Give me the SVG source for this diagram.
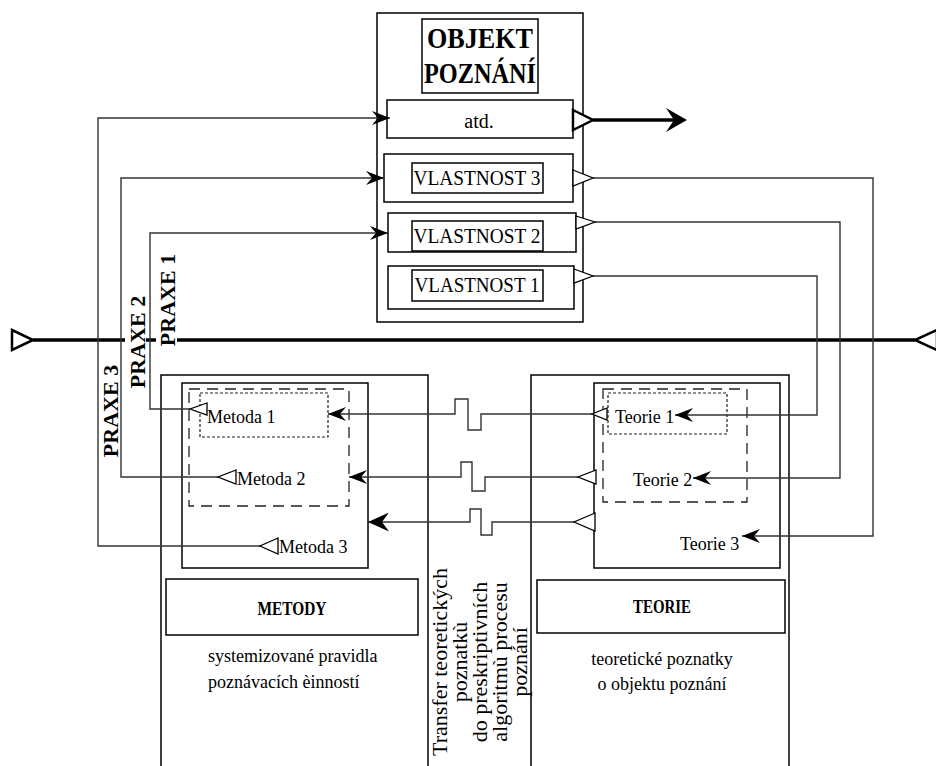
<svg xmlns="http://www.w3.org/2000/svg" width="936" height="766" viewBox="0 0 936 766">
<defs>
<style>
.box{fill:none;stroke:#000;stroke-width:1.5}
.dash{fill:none;stroke:#222;stroke-width:1.3;stroke-dasharray:11 7}
.dot{fill:none;stroke:#222;stroke-width:1.2;stroke-dasharray:3 2}
.ln{fill:none;stroke:#333;stroke-width:1.4}
.tri{fill:#fff;stroke:#000;stroke-width:1.3}
.t{font-family:"Liberation Serif","Times New Roman",serif;fill:#000}
.b{font-weight:bold}
.s18{font-size:18px}
.s22{font-size:22px}
.mid{text-anchor:middle}
</style>
<marker id="barb" viewBox="0 0 18 14" refX="18" refY="7" markerWidth="18" markerHeight="14" orient="auto" markerUnits="userSpaceOnUse">
<path d="M18,7 L0,0 L6,7 L0,14 Z" fill="#000"/>
</marker>
<marker id="barbL" viewBox="0 0 21 19" refX="21" refY="9.5" markerWidth="21" markerHeight="19" orient="auto" markerUnits="userSpaceOnUse">
<path d="M21,9.5 L0,0 L7,9.5 L0,19 Z" fill="#000"/>
</marker>
</defs>
<rect x="0" y="0" width="936" height="766" fill="#fff"/>

<g id="main-line">
<line x1="33" y1="340" x2="915" y2="340" stroke="#000" stroke-width="3.5"/>
<polygon points="12,330 33,340 12,350" fill="#fff" stroke="#000" stroke-width="2.5"/>
<polygon points="937,330 915,340 937,350" fill="#fff" stroke="#000" stroke-width="2.5"/>
</g>

<g id="objekt">
<rect class="box" x="377" y="13" width="206" height="309"/>
<rect class="box" x="422" y="19" width="116" height="74"/>
<text class="t b mid" x="480" y="48" font-size="29" textLength="106" lengthAdjust="spacingAndGlyphs">OBJEKT</text>
<text class="t b mid" x="480" y="83" font-size="29" textLength="112" lengthAdjust="spacingAndGlyphs">POZNÁNÍ</text>
</g>

<g id="atd">
<rect class="box" x="387" y="100" width="186" height="38"/>
<text class="t mid" x="479" y="128" font-size="20">atd.</text>
</g>

<g id="vlastnost3">
<rect class="box" x="384" y="154" width="189" height="48"/>
<rect class="box" x="412" y="163" width="131" height="30"/>
<text class="t mid" x="477" y="185" font-size="22" textLength="127" lengthAdjust="spacingAndGlyphs">VLASTNOST 3</text>
</g>
<g id="vlastnost2">
<rect class="box" x="388" y="213" width="188" height="39"/>
<rect class="box" x="412" y="221" width="131" height="30"/>
<text class="t mid" x="477" y="243" font-size="22" textLength="127" lengthAdjust="spacingAndGlyphs">VLASTNOST 2</text>
</g>
<g id="vlastnost1">
<rect class="box" x="388" y="266" width="186" height="43"/>
<rect class="box" x="412" y="270" width="131" height="31"/>
<text class="t mid" x="477" y="292" font-size="22" textLength="125" lengthAdjust="spacingAndGlyphs">VLASTNOST 1</text>
</g>

<g id="metody">
<rect class="box" x="161" y="375" width="267" height="410"/>
<rect class="box" x="182" y="383" width="186" height="185"/>
<rect class="dash" x="189" y="389" width="160" height="117"/>
<rect class="dot" x="200" y="393" width="128" height="44"/>
<rect class="box" x="166" y="579" width="252" height="56"/>
<text class="t b mid" x="292" y="615" font-size="19" textLength="69" lengthAdjust="spacingAndGlyphs">METODY</text>
<text class="t s18" x="208" y="662">systemizované pravidla</text>
<text class="t s18" x="208" y="688">poznávacích èinností</text>
</g>
<g id="metoda1"><text class="t s18" x="207" y="423">Metoda 1</text></g>
<g id="metoda2"><text class="t s18" x="237" y="485">Metoda 2</text></g>
<g id="metoda3"><text class="t s18" x="279" y="553">Metoda 3</text></g>

<g id="teorie">
<rect class="box" x="531" y="375" width="258" height="410"/>
<rect class="box" x="594" y="383" width="186" height="185"/>
<rect class="dash" x="603" y="389" width="144" height="113"/>
<rect class="dot" x="608" y="393" width="119" height="41"/>
<rect class="box" x="537" y="580" width="248" height="53"/>
<text class="t b mid" x="662" y="613" font-size="19" textLength="58" lengthAdjust="spacingAndGlyphs">TEORIE</text>
<text class="t s18 mid" x="662" y="665">teoretické poznatky</text>
<text class="t s18 mid" x="662" y="690">o objektu poznání</text>
</g>
<g id="teorie1"><text class="t s18" x="615" y="423">Teorie 1</text></g>
<g id="teorie2"><text class="t s18" x="633" y="486">Teorie 2</text></g>
<g id="teorie3"><text class="t s18" x="680" y="550">Teorie 3</text></g>

<g id="transfer" class="t s22 mid">
<text transform="translate(447,662) rotate(-90)">Transfer teoretických</text>
<text transform="translate(467,662) rotate(-90)">poznatkù</text>
<text transform="translate(487,662) rotate(-90)">do preskriptivních</text>
<text transform="translate(507,662) rotate(-90)">algoritmù procesu</text>
<text transform="translate(527,662) rotate(-90)">poznání</text>
</g>

<g id="connectors">
<polyline class="ln" points="260,546 98,546 98,118 390,118" marker-end="url(#barb)"/>
<polyline class="ln" points="218,477 121,477 121,178 384,178" marker-end="url(#barb)"/>
<polyline class="ln" points="190,409 150,409 150,233 388,233" marker-end="url(#barb)"/>
<polyline class="ln" points="593,178 873,178 873,536 742,536" marker-end="url(#barb)"/>
<polyline class="ln" points="595,222 840,222 840,478 693,478" marker-end="url(#barb)"/>
<polyline class="ln" points="593,276 817,276 817,415 675,415" marker-end="url(#barb)"/>
<polyline class="ln" points="592,414 481,414 481,430 468,430 468,399 455,399 455,414 328,414" marker-end="url(#barb)"/>
<polyline class="ln" points="578,477 485,477 485,491 472,491 472,462 461,462 461,477 349,477" marker-end="url(#barb)"/>
<polyline class="ln" points="574,522 492,522 492,535 481,535 481,509 470,509 470,522 368,522" stroke-width="1.9" marker-end="url(#barbL)"/>
<line x1="593" y1="120" x2="680" y2="120" stroke="#000" stroke-width="3.5"/>
<path d="M687,120 L666,108 L674,120 L666,132 Z" fill="#000"/>
<polygon points="573,110 593,120 573,130" fill="#fff" stroke="#000" stroke-width="2.5"/>
<polygon class="tri" points="573,170 593,178 573,186"/>
<polygon class="tri" points="576,216 595,222 576,229"/>
<polygon class="tri" points="574,269 593,276 574,283"/>
<polygon class="tri" points="607,408 592,414 607,420"/>
<polygon class="tri" points="596,470 578,477 596,484"/>
<polygon class="tri" points="595,513 574,522 595,531"/>
<polygon class="tri" points="207,403 190,409 207,415"/>
<polygon class="tri" points="236,470 218,477 236,484"/>
<polygon class="tri" points="278,538 260,546 278,554"/>
</g>

<g id="praxe">
<rect x="125" y="294" width="21" height="98" fill="#fff"/>
<rect x="156" y="251" width="21" height="98" fill="#fff"/>
<text class="t b s22 mid" transform="translate(175,300) rotate(-90)">PRAXE 1</text>
<text class="t b s22 mid" transform="translate(145,342) rotate(-90)">PRAXE 2</text>
<text class="t b s22 mid" transform="translate(118,411) rotate(-90)">PRAXE 3</text>
</g>
</svg>
